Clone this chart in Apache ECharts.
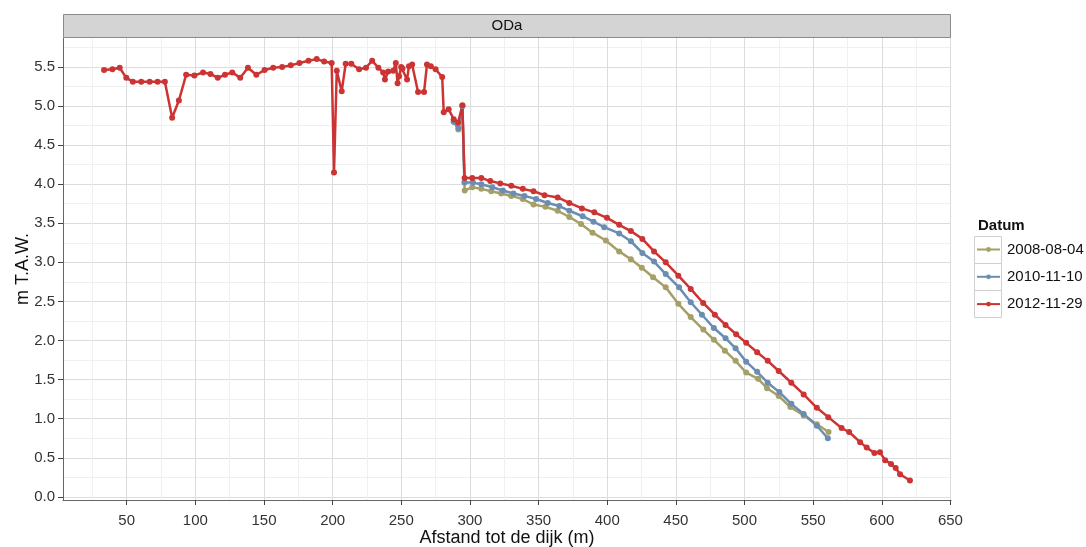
<!DOCTYPE html>
<html>
<head>
<meta charset="utf-8">
<script src="https://cdn.jsdelivr.net/npm/echarts@6/dist/echarts.min.js"></script>
<style>
html,body{margin:0;padding:0;background:#fff;}
#chart{width:1086px;height:547px;}
</style>
</head>
<body>
<div id="chart"></div>
<script>
// ---- data ----
const seriesNames = ['2008-08-04', '2010-11-10', '2012-11-29'];
const seriesColors = ['#a5a067', '#6b8db2', '#cc3434'];

const dist2008 = [288.2,291.6,294.5,296.2,301.7,308.3,315.5,322.8,330.1,338.5,346.3,355.0,363.9,372.4,380.9,389.3,399.0,408.7,417.2,425.2,433.4,442.6,451.8,460.8,470.0,477.7,485.7,493.5,501.2,509.9,516.4,524.9,533.4,543.1,552.7,561.2];
const height2008 = [4.80,4.70,5.00,3.92,3.96,3.94,3.91,3.88,3.85,3.81,3.74,3.71,3.66,3.58,3.49,3.38,3.28,3.14,3.04,2.93,2.81,2.68,2.47,2.30,2.14,2.01,1.87,1.74,1.59,1.51,1.39,1.29,1.15,1.04,0.93,0.83];

const dist2010 = [288.2,291.6,294.5,296.0,302.2,308.3,316.3,324.0,331.7,339.7,348.2,356.7,365.1,372.4,382.1,390.0,397.8,408.7,417.2,425.6,434.1,442.6,452.3,460.8,469.0,477.7,486.2,493.5,501.2,509.2,516.9,525.4,534.1,543.1,552.7,560.7];
const height2010 = [4.80,4.72,5.00,4.02,4.02,4.00,3.96,3.92,3.88,3.85,3.81,3.76,3.72,3.66,3.59,3.52,3.45,3.37,3.27,3.12,3.01,2.85,2.68,2.49,2.33,2.16,2.03,1.90,1.73,1.60,1.46,1.34,1.19,1.06,0.91,0.75];

const dist2012 = [33.5,39.6,44.9,49.7,54.5,60.6,66.7,72.5,77.8,83.1,88.0,93.3,99.3,105.6,111.0,116.3,121.6,126.9,132.7,138.3,144.4,150.4,156.7,163.2,169.5,175.8,182.4,188.4,193.8,199.3,201.0,203.0,206.6,209.5,213.6,219.3,224.3,228.8,233.3,236.8,238.1,240.5,244.1,246.0,247.3,248.4,249.9,250.9,254.2,255.6,257.9,262.2,266.6,268.7,271.5,275.0,279.8,280.9,284.5,288.2,291.4,294.5,296.1,301.7,308.3,314.8,322.1,330.1,338.5,346.3,354.3,363.9,372.4,381.6,390.6,399.8,408.7,417.2,425.6,434.1,442.6,451.8,460.8,469.9,478.4,486.2,493.9,501.2,509.2,516.9,524.9,534.1,543.1,552.7,561.0,570.7,576.2,584.2,589.0,594.6,598.7,602.4,606.7,610.1,613.3,620.5];
const height2012 = [5.46,5.47,5.49,5.36,5.31,5.31,5.31,5.31,5.31,4.85,5.07,5.40,5.39,5.43,5.41,5.36,5.40,5.43,5.36,5.49,5.40,5.46,5.49,5.50,5.52,5.55,5.58,5.60,5.57,5.55,4.15,5.45,5.19,5.54,5.54,5.47,5.49,5.58,5.49,5.43,5.34,5.44,5.45,5.55,5.29,5.38,5.50,5.48,5.34,5.51,5.53,5.18,5.18,5.53,5.51,5.47,5.37,4.92,4.96,4.83,4.79,5.01,4.08,4.08,4.08,4.04,4.01,3.98,3.94,3.91,3.86,3.83,3.76,3.69,3.64,3.57,3.48,3.40,3.30,3.14,3.00,2.83,2.66,2.48,2.33,2.20,2.08,1.97,1.85,1.74,1.61,1.46,1.31,1.14,1.02,0.88,0.83,0.70,0.63,0.56,0.57,0.47,0.42,0.37,0.29,0.21];

const xTicks = [50,100,150,200,250,300,350,400,450,500,550,600,650];
const xMinor = [25,75,125,175,225,275,325,375,425,475,525,575,625];
const yTicks = [0,0.5,1,1.5,2,2.5,3,3.5,4,4.5,5,5.5];
const yMinor = [0.25,0.75,1.25,1.75,2.25,2.75,3.25,3.75,4.25,4.75,5.25,5.75];

const panelTitle = 'ODa';
const xTitle = 'Afstand tot de dijk (m)';
const yTitle = 'm T.A.W.';
const legendTitle = 'Datum';

// ---- chart ----
const zip = (xs, ys) => xs.map((x, i) => [x, ys[i]]);
const allX = [dist2008, dist2010, dist2012];
const allY = [height2008, height2010, height2012];

const FONT = '"Liberation Sans", Arial, sans-serif';
const X_MIN = 3.6, X_MAX = 650.4, Y_MIN = -0.04, Y_MAX = 5.87;
const majorColor = '#dcdcdc', minorColor = '#f0f0f0';

const chart = echarts.init(document.getElementById('chart'), null, {renderer: 'canvas'});
chart.setOption({
  animation: false,
  backgroundColor: '#ffffff',
  grid: {left: 63, right: 135, top: 38, bottom: 47, containLabel: false, outerBoundsMode: 'none'},
  xAxis: [{
    type: 'value', min: X_MIN, max: X_MAX,
    name: xTitle, nameLocation: 'middle', nameGap: 29, nameMoveOverlap: false,
    nameTextStyle: {fontFamily: FONT, fontSize: 18, color: '#111'},
    axisLine: {show: true, onZero: false, lineStyle: {color: '#666', width: 1}},
    axisTick: {show: true, length: 5, customValues: xTicks, lineStyle: {color: '#444'}},
    axisLabel: {customValues: xTicks, margin: 13, fontFamily: FONT, fontSize: 15, color: '#333'},
    splitLine: {show: true, lineStyle: {color: majorColor, width: 1}}
  }, {
    type: 'value', min: X_MIN, max: X_MAX, position: 'bottom',
    axisLine: {show: false}, axisLabel: {show: false},
    axisTick: {show: false, customValues: xMinor},
    splitLine: {show: true, lineStyle: {color: minorColor, width: 1}}
  }],
  yAxis: [{
    type: 'value', min: Y_MIN, max: Y_MAX,
    name: yTitle, nameLocation: 'middle', nameGap: 31, nameRotate: 90, nameMoveOverlap: false,
    nameTextStyle: {fontFamily: FONT, fontSize: 18, color: '#111'},
    axisLine: {show: true, onZero: false, lineStyle: {color: '#666', width: 1}},
    axisTick: {show: true, length: 5, customValues: yTicks, lineStyle: {color: '#444'}},
    axisLabel: {customValues: yTicks, margin: 8, fontFamily: FONT, fontSize: 15, color: '#333',
      formatter: v => Number(v).toFixed(1)},
    splitLine: {show: true, lineStyle: {color: majorColor, width: 1}}
  }, {
    type: 'value', min: Y_MIN, max: Y_MAX, position: 'left',
    axisLine: {show: false}, axisLabel: {show: false},
    axisTick: {show: false, customValues: yMinor},
    splitLine: {show: true, lineStyle: {color: minorColor, width: 1}}
  }],
  legend: {
    orient: 'vertical', left: 976, top: 242, padding: 0,
    itemWidth: 23, itemHeight: 6, itemGap: 12.3,
    data: seriesNames,
    textStyle: {fontFamily: FONT, fontSize: 15, color: '#111', padding: [0,0,0,2]},
    selectedMode: false
  },
  graphic: [
    {type: 'rect', shape: {x: 63.5, y: 14.5, width: 887, height: 23}, style: {fill: '#d4d4d4', stroke: '#8a8a8a', lineWidth: 1}, z: 5},
    {type: 'text', x: 507, y: 26, style: {text: panelTitle, font: '15px ' + FONT, fill: '#111', textAlign: 'center', textVerticalAlign: 'middle'}, z: 6},
    {type: 'text', x: 978, y: 226, style: {text: legendTitle, font: 'bold 15px ' + FONT, fill: '#111', textAlign: 'left', textVerticalAlign: 'middle'}},
    {type: 'rect', shape: {x: 974.5, y: 236.5, width: 27, height: 27}, style: {fill: '#fff', stroke: '#d0d0d0', lineWidth: 1}, z: -1},
    {type: 'rect', shape: {x: 974.5, y: 263.5, width: 27, height: 27}, style: {fill: '#fff', stroke: '#d0d0d0', lineWidth: 1}, z: -1},
    {type: 'rect', shape: {x: 974.5, y: 290.5, width: 27, height: 27}, style: {fill: '#fff', stroke: '#d0d0d0', lineWidth: 1}, z: -1}
  ],
  series: seriesNames.map((name, i) => ({
    name: name, type: 'line',
    xAxisIndex: 0, yAxisIndex: 0,
    data: zip(allX[i], allY[i]),
    showSymbol: true, symbol: 'circle', symbolSize: 6,
    lineStyle: {color: seriesColors[i], width: 2.5},
    itemStyle: {color: seriesColors[i]},
    emphasis: {disabled: true},
    clip: true
  }))
});
</script>
</body>
</html>
